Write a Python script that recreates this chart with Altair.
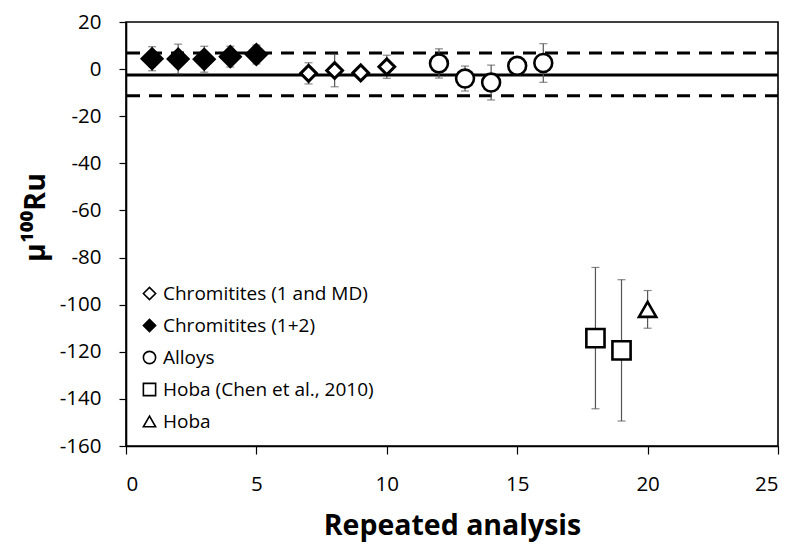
import altair as alt
import pandas as pd

# ---- data ----
series_names = ["Chromitites (1 and MD)", "Chromitites (1+2)", "Alloys",
                "Hoba (Chen et al., 2010)", "Hoba"]

chrom_md_x = [7, 8, 9, 10]
chrom_md_y = [-1.8, -0.6, -1.6, 1.0]
chrom_md_e = [4.5, 6.9, 1.5, 4.9]

chrom12_x = [1, 2, 3, 4, 5]
chrom12_y = [4.4, 4.3, 4.2, 5.3, 6.2]
chrom12_e = [5.1, 6.3, 5.5, 4.4, 4.0]

alloys_x = [12, 13, 14, 15, 16]
alloys_y = [2.4, -4.0, -5.7, 1.4, 2.6]
alloys_e = [6.2, 5.3, 7.4, 3.8, 8.2]

hoba_chen_x = [18, 19]
hoba_chen_y = [-114.2, -119.4]
hoba_chen_e = [30.0, 30.0]

hoba_x = [20]
hoba_y = [-102.0]
hoba_e = [8.0]

mean_line = [-2.5]
dash_lines = [6.8, -11.3]

x_ticks = [0, 5, 10, 15, 20, 25]
y_ticks = [20, 0, -20, -40, -60, -80, -100, -120, -140, -160]

shapes = ["diamond", "diamond", "circle", "square", "triangle-up"]
fills = ["white", "black", "white", "white", "white"]
strokes = ["black", "black", "black", "black", "black"]
marker_sizes = [250, 420, 320, 330, 300]

rows = []
for name, xs, ys, es in [
    (series_names[0], chrom_md_x, chrom_md_y, chrom_md_e),
    (series_names[1], chrom12_x, chrom12_y, chrom12_e),
    (series_names[2], alloys_x, alloys_y, alloys_e),
    (series_names[3], hoba_chen_x, hoba_chen_y, hoba_chen_e),
    (series_names[4], hoba_x, hoba_y, hoba_e),
]:
    for x, y, e in zip(xs, ys, es):
        rows.append({"series": name, "x": x, "y": y, "lo": y - e, "hi": y + e})
df = pd.DataFrame(rows)

FONT = "Open Sans"
W, H = 652, 424
YTITLE = "μ¹⁰⁰Ru"

xscale = alt.Scale(domain=[0, 25], nice=False, zero=False)
yscale = alt.Scale(domain=[-160, 20], nice=False, zero=False)

minus_fix = "datum.value < 0 ? '-' + abs(datum.value) : '' + datum.value"

xaxis = alt.Axis(values=x_ticks, title="Repeated analysis", grid=False,
                 labelFontSize=20.5, titleFontSize=28.5, titleFontWeight="bold",
                 tickSize=8, labelPadding=20, labelExpr=minus_fix,
                 titleX=W / 2, titleY=88, titleBaseline="alphabetic",
                 titleAlign="center")
yaxis = alt.Axis(values=y_ticks, title=YTITLE, grid=False,
                 labelFontSize=20.5, titleFontSize=28.5, titleFontWeight="bold",
                 tickSize=7, labelPadding=18, labelExpr=minus_fix,
                 titleX=-91, titleY=195, titleAngle=270,
                 titleBaseline="middle", titleAlign="center")

legend = alt.Legend(title=None, orient="bottom-left", offset=14, padding=0,
                    labelLimit=400, symbolStrokeWidth=1.6, symbolSize=150)

base = alt.Chart(df)

mean_rule = alt.Chart(pd.DataFrame({"v": mean_line})).mark_rule(
    color="black", strokeWidth=3
).encode(y=alt.Y("v:Q", scale=yscale, axis=yaxis, title=YTITLE))

dash_rule = alt.Chart(pd.DataFrame({"v": dash_lines})).mark_rule(
    color="black", strokeWidth=3, strokeDash=[13, 9]
).encode(y=alt.Y("v:Q", scale=yscale, title=YTITLE))

errbars = base.mark_errorbar(
    color="#555555", thickness=1.2, ticks={"size": 8, "thickness": 1.2}
).encode(
    x=alt.X("x:Q", scale=xscale, axis=xaxis),
    y=alt.Y("lo:Q", scale=yscale, title=YTITLE),
    y2="hi:Q",
)

shape_enc = alt.Shape("series:N",
                      scale=alt.Scale(domain=series_names, range=shapes),
                      legend=legend)
fill_enc = alt.Fill("series:N",
                    scale=alt.Scale(domain=series_names, range=fills),
                    legend=legend)
stroke_enc = alt.Stroke("series:N",
                        scale=alt.Scale(domain=series_names, range=strokes),
                        legend=legend)

point_layers = []
for name, sz in zip(series_names, marker_sizes):
    sw = 3.0 if name == series_names[0] else 2.6
    point_layers.append(
        base.transform_filter(alt.datum.series == name).mark_point(
            strokeWidth=sw, opacity=1, size=sz
        ).encode(
            x=alt.X("x:Q", scale=xscale),
            y=alt.Y("y:Q", scale=yscale, title=YTITLE),
            shape=shape_enc,
            fill=fill_enc,
            stroke=stroke_enc,
        )
    )

chart = alt.layer(dash_rule, mean_rule, errbars, *point_layers).properties(
    width=W, height=H,
    autosize=alt.AutoSizeParams(type="none"),
    padding={"left": 118, "top": 14, "right": 12, "bottom": 105},
).configure_view(
    stroke="black", strokeWidth=1.6
).configure_axis(
    domainColor="black", domainWidth=1.6, tickColor="black", tickWidth=1.2,
    labelColor="black", titleColor="black", labelFont=FONT, titleFont=FONT
).configure_legend(
    labelFont=FONT, labelFontSize=19, labelColor="black",
    symbolSize=150, symbolStrokeWidth=1.6,
    rowPadding=12, labelOffset=4, labelLimit=400
)

chart.save("out.html", embed_options={"renderer": "svg", "actions": False})
